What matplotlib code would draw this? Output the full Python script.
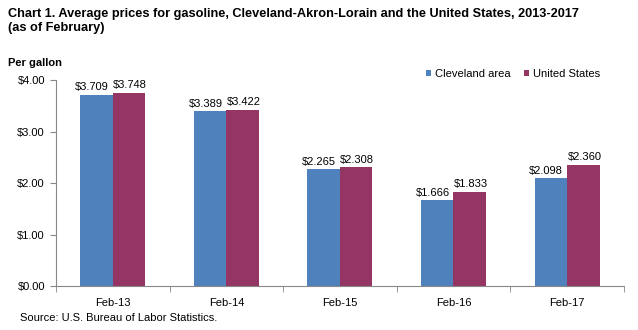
import matplotlib.pyplot as plt
import numpy as np
from matplotlib.ticker import FixedLocator

plt.rcParams["font.family"] = ["Liberation Sans", "DejaVu Sans"]

periods = ["Feb-13", "Feb-14", "Feb-15", "Feb-16", "Feb-17"]
cleveland = [3.709, 3.389, 2.265, 1.666, 2.098]
us = [3.748, 3.422, 2.308, 1.833, 2.360]
series_names = ["Cleveland area", "United States"]
colors = ["#4F81BD", "#953563"]

fig = plt.figure(figsize=(6.38, 3.30), dpi=100)
ax = fig.add_axes([0.0878, 0.132, 0.890, 0.626])

x = np.arange(len(periods))
w = 0.286
b1 = ax.bar(x - w / 2, cleveland, w, color=colors[0], label=series_names[0])
b2 = ax.bar(x + w / 2, us, w, color=colors[1], label=series_names[1])

# value labels, nudged apart a little like the original chart
for bars, vals, dx in ((b1, cleveland, -0.04), (b2, us, 0.01)):
    for rect, v in zip(bars, vals):
        ax.text(rect.get_x() + rect.get_width() / 2 + dx, v + 0.05, f"${v:.3f}",
                ha="center", va="bottom", fontsize=8)

ax.set_xlim(-0.5, len(periods) - 0.5)
ax.set_ylim(0, 4)
ticks = np.arange(0, 4.01, 1)
ax.set_yticks(ticks)
ax.set_yticklabels([f"${t:.2f}" for t in ticks], fontsize=8)
ax.set_xticks(x)
ax.set_xticklabels(periods, fontsize=8)
ax.tick_params(axis="x", length=0, pad=8)
ax.xaxis.set_minor_locator(FixedLocator(np.arange(-0.5, len(periods), 1)))
ax.tick_params(axis="x", which="minor", length=4, color="#888888")
ax.tick_params(axis="y", length=4, color="#888888", pad=4)
for side in ("top", "right"):
    ax.spines[side].set_visible(False)
for side in ("left", "bottom"):
    ax.spines[side].set_color("#888888")

ax.legend(loc="upper right", bbox_to_anchor=(0.975, 1.1), ncol=2, frameon=False,
          fontsize=8, handlelength=0.5, handleheight=0.5, handletextpad=0.3,
          columnspacing=1.2)

fig.text(0.013, 0.975, "Chart 1. Average prices for gasoline, Cleveland-Akron-Lorain and the United States, 2013-2017\n(as of February)",
         ha="left", va="top", fontsize=9.2, fontweight="bold", linespacing=1.15)
fig.text(0.013, 0.81, "Per gallon", ha="left", va="center", fontsize=8, fontweight="bold")
fig.text(0.031, 0.036, "Source: U.S. Bureau of Labor Statistics.", ha="left", va="center", fontsize=8)

fig.savefig("out.png", dpi=100)
